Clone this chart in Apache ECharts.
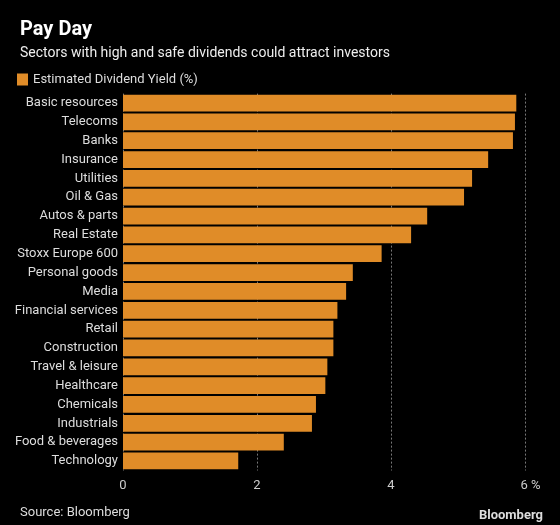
<!DOCTYPE html>
<html>
<head>
<meta charset="utf-8">
<script src="https://cdn.jsdelivr.net/npm/echarts@6/dist/echarts.min.js"></script>
<style>
html,body{margin:0;padding:0;background:#000;}
#c{width:560px;height:525px;}
</style>
</head>
<body>
<div id="c"></div>
<script>
const categories = ["Basic resources","Telecoms","Banks","Insurance","Utilities","Oil & Gas","Autos & parts","Real Estate","Stoxx Europe 600","Personal goods","Media","Financial services","Retail","Construction","Travel & leisure","Healthcare","Chemicals","Industrials","Food & beverages","Technology"];
const yieldValues = [5.87,5.85,5.82,5.45,5.21,5.09,4.54,4.30,3.86,3.43,3.33,3.20,3.14,3.14,3.05,3.02,2.88,2.82,2.40,1.72];
const xTicks = [0,2,4,6];
const seriesName = "Estimated Dividend Yield (%)";

const FONT = 'Roboto';
const chart = echarts.init(document.getElementById('c'));
chart.setOption({
  backgroundColor: '#000',
  animation: false,
  title: [
    {text: 'Pay Day', left: 15, top: 15, textStyle: {color: '#fff', fontSize: 20, fontWeight: 'bold', fontFamily: FONT}},
    {text: 'Sectors with high and safe dividends could attract investors', left: 15, top: 41, textStyle: {color: '#eee', fontSize: 14, fontWeight: 'normal', fontFamily: FONT}},
    {text: 'Source: Bloomberg', left: 15, top: 501, textStyle: {color: '#ddd', fontSize: 13, fontWeight: 'normal', fontFamily: FONT}},
    {text: 'Bloomberg', right: 12, top: 504, textStyle: {color: '#ddd', fontSize: 13, fontWeight: 'bold', fontFamily: FONT}}
  ],
  legend: {
    left: 12, top: 68, itemWidth: 11, itemHeight: 12, itemGap: 10,
    icon: 'rect',
    textStyle: {color: '#ddd', fontSize: 13, fontFamily: FONT},
    data: [seriesName]
  },
  grid: {left: 123, right: 35, top: 93.6, bottom: 525 - 470.4},
  xAxis: {
    type: 'value', min: 0, max: 6, interval: 2,
    axisLine: {show: false}, axisTick: {show: false},
    splitLine: {show: true, lineStyle: {color: '#777', type: [2, 2], width: 1}},
    axisLabel: {
      color: '#ccc', fontSize: 13, fontFamily: FONT, margin: 9,
      formatter: v => v === xTicks[xTicks.length - 1] ? '{l|}' + v + ' %' : String(v),
      rich: {l: {width: 11}}
    }
  },
  yAxis: {
    type: 'category', inverse: true, data: categories,
    axisLine: {show: false}, axisTick: {show: false},
    axisLabel: {color: '#ddd', fontSize: 13, fontFamily: FONT, margin: 5}
  },
  series: [{
    name: seriesName, type: 'bar', data: yieldValues,
    barCategoryGap: '11%',
    itemStyle: {color: '#e08c28'}
  }]
});
</script>
</body>
</html>
